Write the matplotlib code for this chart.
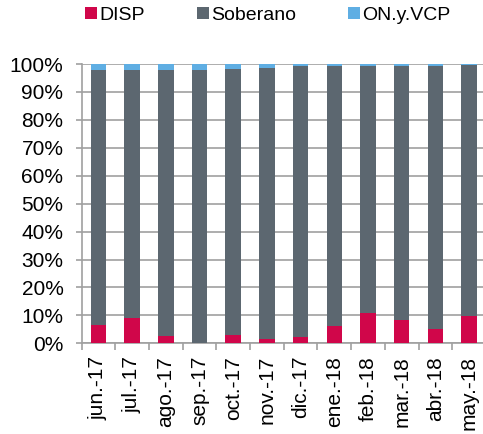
import matplotlib
matplotlib.use("Agg")
import matplotlib.pyplot as plt
import numpy as np

plt.rcParams['font.family'] = ['Liberation Sans', 'DejaVu Sans']

categories = ['jun.-17', 'jul.-17', 'ago.-17', 'sep.-17', 'oct.-17', 'nov.-17',
              'dic.-17', 'ene.-18', 'feb.-18', 'mar.-18', 'abr.-18', 'may.-18']
disp = [6.5, 8.9, 2.6, 0.2, 3.1, 1.5, 2.3, 6.1, 10.9, 8.4, 5.1, 9.6]
on_vcp = [2.3, 2.0, 2.0, 2.2, 1.9, 1.3, 0.6, 0.6, 0.6, 0.6, 0.6, 0.5]
soberano = [100 - d - o for d, o in zip(disp, on_vcp)]

c_disp = '#D0064A'
c_sob = '#5C6770'
c_on = '#5FAEE3'

fig = plt.figure(figsize=(4.83, 4.34), dpi=100)
ax = fig.add_axes([81.5 / 483, (434 - 343.3) / 434, (486 - 81.5) / 483, (343.3 - 64) / 434])

x = np.arange(len(categories))
w = 0.46
ax.bar(x, disp, w, color=c_disp, label='DISP', zorder=3)
ax.bar(x, soberano, w, bottom=disp, color=c_sob, label='Soberano', zorder=3)
bot2 = [d + s for d, s in zip(disp, soberano)]
ax.bar(x, on_vcp, w, bottom=bot2, color=c_on, label='ON.y.VCP', zorder=3)

ax.set_xlim(-0.5, len(categories) - 0.5)
ax.set_ylim(0, 100)
ax.set_yticks(np.arange(0, 101, 10))
ax.set_yticklabels([f'{v}%' for v in range(0, 101, 10)], fontsize=15)
ax.yaxis.grid(True, color='#A0A0A0', linewidth=1.2, zorder=0)
ax.set_axisbelow(True)

ax.set_xticks(x)
ax.set_xticklabels(categories, rotation=90, fontsize=15)
ax.set_xticks(np.arange(-0.5, len(categories), 1), minor=True)
ax.tick_params(axis='x', which='major', length=0, pad=9)
ax.tick_params(axis='x', which='minor', length=5, color='#A0A0A0', width=1.2)
ax.tick_params(axis='y', length=4, color='#A0A0A0', width=1.2, pad=9)

for s in ['top', 'right']:
    ax.spines[s].set_visible(False)
for s in ['left', 'bottom']:
    ax.spines[s].set_color('#A0A0A0')
    ax.spines[s].set_linewidth(1.2)

fig.legend(loc='upper center', bbox_to_anchor=(0.555, 1.025), ncol=3, frameon=False,
           fontsize=14, handlelength=0.6, handleheight=0.6, handletextpad=0.15,
           columnspacing=2.65)

fig.savefig('out.png', dpi=100)
